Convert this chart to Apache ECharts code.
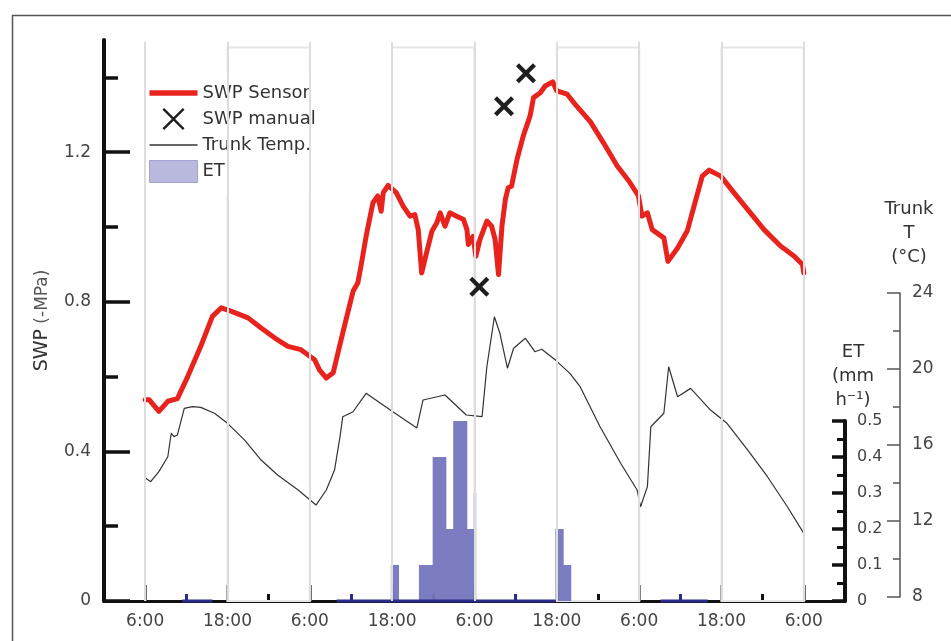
<!DOCTYPE html>
<html>
<head>
<meta charset="utf-8">
<script src="https://cdn.jsdelivr.net/npm/echarts@6/dist/echarts.min.js"></script>
<style>
html,body{margin:0;padding:0;background:#fff;}
#chart{width:951px;height:641px;}
</style>
</head>
<body>
<div id="chart"></div>
<script>
// ---------- data (hours from 0:00 of day 1) ----------
const swpHours = [6.0,6.6,8.0,9.3,10.7,12.2,14.1,15.8,17.1,18.5,21.0,22.9,24.9,26.8,28.7,30.7,31.4,32.4,33.4,34.8,36.3,37.0,37.5,38.2,39.2,39.9,40.4,40.7,41.4,42.6,43.6,44.6,45.3,45.8,46.3,47.0,47.8,48.5,49.0,49.7,50.4,51.4,52.4,52.9,53.1,53.8,54.2,54.8,55.8,56.5,57.0,57.5,58.0,58.5,58.9,59.4,60.2,61.1,62.1,62.6,63.6,64.3,65.4,66.0,67.5,68.9,70.9,72.8,74.8,76.5,77.9,78.4,79.2,79.9,81.6,82.2,83.6,85.0,86.0,87.2,88.2,89.9,91.8,93.8,96.2,98.6,100.6,101.8,102.0];
const swpValues = [0.538,0.538,0.507,0.534,0.541,0.600,0.681,0.761,0.784,0.775,0.757,0.730,0.703,0.681,0.672,0.645,0.618,0.596,0.610,0.717,0.828,0.851,0.900,0.975,1.065,1.083,1.042,1.092,1.111,1.092,1.056,1.029,1.033,0.993,0.877,0.930,0.989,1.011,1.038,1.002,1.038,1.029,1.020,0.993,0.953,0.975,0.922,0.967,1.016,1.002,0.967,0.873,1.002,1.074,1.105,1.109,1.181,1.243,1.297,1.346,1.359,1.377,1.388,1.364,1.355,1.323,1.281,1.225,1.163,1.123,1.083,1.029,1.038,0.993,0.971,0.908,0.944,0.989,1.056,1.136,1.152,1.136,1.092,1.047,0.993,0.949,0.922,0.900,0.877];

const manualHours = [54.7, 58.3, 61.5];
const manualValues = [0.84, 1.323, 1.411];

const tempHours = [6.1,6.8,8.0,9.3,9.8,10.2,10.7,11.7,12.9,14.1,16.1,18.0,20.5,22.9,25.3,28.3,30.9,32.4,33.6,34.4,34.8,36.3,38.2,42.1,45.6,46.5,49.7,52.8,55.1,55.8,56.9,57.7,58.8,59.7,61.4,62.8,63.8,65.8,67.9,69.4,72.3,75.3,77.7,78.2,79.2,79.7,81.6,82.3,83.6,85.5,88.4,90.8,93.8,96.7,99.6,102.0];
const tempValues = [14.25,14.07,14.6,15.38,16.62,16.44,16.53,17.93,18.02,17.98,17.67,17.14,16.26,15.21,14.42,13.63,12.84,13.63,14.68,16.44,17.49,17.75,18.72,17.75,16.9,18.37,18.63,17.58,17.49,20.12,22.75,21.88,20.04,21.09,21.62,20.91,21.04,20.47,19.77,19.07,16.96,15.04,13.63,12.75,13.81,16.96,17.67,20.12,18.54,18.98,17.84,17.14,15.74,14.33,12.75,11.35];

// ET histogram: start hour of each step and its value (held until next start)
const etStart = [41.8, 43.0, 45.9, 47.9, 49.9, 50.9, 52.95, 53.9, 54.25, 65.8, 67.0, 68.1];
const etValue = [0.1, 0, 0.1, 0.4, 0.2, 0.5, 0.2, 0.3, 0, 0.2, 0.1, 0];
const etBaseSpans = [[11.4, 15.8], [33.9, 65.8], [81.1, 88.0]];

// axis ticks / labels
const hourLabels = [6, 18, 30, 42, 54, 66, 78, 90, 102];
const tallGreyTicks = [6, 18, 30, 78, 90, 102];
const tallBlueTicks = [42, 54, 66];
const shortBlackTicks = [24, 72, 96];
const shortBlueTicks = [12, 36, 48, 60, 84];
const swpMajor = [0, 0.4, 0.8, 1.2];
const swpMinor = [0.2, 0.6, 1.0, 1.4];
const gridHours = [6, 18, 30, 42, 54, 66, 78, 90, 102];
const nights = [[18, 30], [42, 54], [66, 78], [90, 102]];

// ---------- build ----------
const FONT = 'DejaVu Sans';
const swpData = swpHours.map((h, i) => [h, swpValues[i]]);
const manualData = manualHours.map((h, i) => [h, manualValues[i]]);
const tempData = tempHours.map((h, i) => [h, tempValues[i]]);
const etData = etStart.map((h, i) => [h, etValue[i]]);
const etBaseData = [];
etBaseSpans.forEach(s => { etBaseData.push([s[0], 0], [s[1], 0], [s[1], null]); });

const XPATH = 'path://M3,0 L10,7 L17,0 L20,3 L13,10 L20,17 L17,20 L10,13 L3,20 L0,17 L7,10 L0,3 Z';
const XPATH_THIN = 'path://M1.5,0 L10,8.5 L18.5,0 L20,1.5 L11.5,10 L20,18.5 L18.5,20 L10,11.5 L1.5,20 L0,18.5 L8.5,10 L0,1.5 Z';
const THICK_LINE = 'path://M0,0H48V5.5H0Z';
const THIN_LINE = 'path://M0,0H48V1.3H0Z';

function hiddenX(grid, ticks, len, color) {
  return {
    type: 'value', gridIndex: grid, min: 0, max: 108, position: 'bottom',
    axisLine: { show: false, onZero: false }, axisLabel: { show: false }, splitLine: { show: false },
    axisTick: ticks ? { show: true, inside: true, customValues: ticks, length: len, lineStyle: { color: color, width: 3 } } : { show: false }
  };
}

const chart = echarts.init(document.getElementById('chart'), null, { renderer: 'canvas' });
chart.setOption({
  animation: false,
  backgroundColor: '#fff',
  textStyle: { fontFamily: FONT },
  graphic: [{
    type: 'rect', left: 10, top: 13, z: -10,
    shape: { width: 990, height: 680 },
    style: { fill: 'none', stroke: '#555', lineWidth: 1.5 }
  }],
  grid: [
    { left: 104, right: 106, top: 40, bottom: 40 },
    { left: 104, right: 106, top: 421, bottom: 40 },
    { left: 104, right: 106, top: 293, bottom: 44 }
  ],
  legend: {
    orient: 'vertical', left: 141, top: 72,
    padding: [12, 18, 12, 8], backgroundColor: '#fff',
    itemWidth: 48, itemHeight: 22, itemGap: 6,
    textStyle: { fontFamily: FONT, fontSize: 18, color: '#333' },
    data: [
      { name: 'SWP Sensor', icon: THICK_LINE },
      { name: 'SWP manual', icon: XPATH_THIN },
      { name: 'Trunk Temp.', icon: THIN_LINE },
      { name: 'ET', icon: 'rect', itemStyle: { color: '#b9b9dd', borderColor: '#a3a3d2', borderWidth: 1 } }
    ]
  },
  xAxis: [
    {
      type: 'value', gridIndex: 0, min: 0, max: 108, position: 'bottom',
      axisLine: { show: true, onZero: false, lineStyle: { color: '#111', width: 3 } },
      axisTick: { show: true, inside: true, customValues: tallGreyTicks, length: 16, lineStyle: { color: '#6e6e6e', width: 3 } },
      axisLabel: {
        customValues: hourLabels, margin: 12, color: '#444', fontFamily: FONT, fontSize: 17,
        formatter: v => (v % 24 === 6 ? '6:00' : '18:00')
      },
      splitLine: { show: false }
    },
    hiddenX(0, tallBlueTicks, 16, '#2b2b8c'),
    hiddenX(1, shortBlackTicks, 7, '#111'),
    hiddenX(1, shortBlueTicks, 7, '#2b2b8c'),
    hiddenX(2, null, 0, '#000')
  ],
  yAxis: [
    {
      type: 'value', gridIndex: 0, min: 0, max: 1.5, position: 'left',
      name: '{a|SWP} {b|(-MPa)}', nameLocation: 'middle', nameGap: 52,
      nameTextStyle: {
        fontFamily: FONT, fontSize: 17, color: '#333',
        rich: { a: { fontFamily: FONT, fontSize: 19, color: '#333' }, b: { fontFamily: FONT, fontSize: 17, color: '#555' } }
      },
      axisLine: { show: true, onZero: false, lineStyle: { color: '#111', width: 4 } },
      axisTick: { show: true, inside: true, customValues: swpMajor, length: 26, lineStyle: { color: '#111', width: 3.5 } },
      axisLabel: {
        customValues: swpMajor, margin: 13, color: '#444', fontFamily: FONT, fontSize: 17,
        formatter: v => (v === 0 ? '0' : v.toFixed(1))
      },
      splitLine: { show: false }
    },
    {
      type: 'value', gridIndex: 0, min: 0, max: 1.5, position: 'left',
      axisLine: { show: false, onZero: false }, axisLabel: { show: false }, splitLine: { show: false },
      axisTick: { show: true, inside: true, customValues: swpMinor, length: 14, lineStyle: { color: '#111', width: 3.5 } }
    },
    {
      type: 'value', gridIndex: 1, min: 0, max: 0.5, interval: 0.1, position: 'right',
      name: 'ET\n(mm\nh⁻¹)', nameLocation: 'end', nameGap: 9,
      nameTextStyle: { fontFamily: FONT, fontSize: 18, color: '#333', align: 'center', lineHeight: 24, padding: [0, 0, 0, 16] },
      axisLine: { show: true, onZero: false, lineStyle: { color: '#111', width: 4 } },
      axisTick: { show: true, inside: true, length: 13, lineStyle: { color: '#111', width: 3.5 } },
      minorTick: { show: true, splitNumber: 2, length: 8, lineStyle: { color: '#111', width: 3 } },
      axisLabel: {
        margin: 12, color: '#444', fontFamily: FONT, fontSize: 16,
        formatter: v => (v === 0 ? '0' : v.toFixed(1))
      },
      splitLine: { show: false }
    },
    {
      type: 'value', gridIndex: 2, min: 8, max: 24, interval: 4, position: 'right', offset: 55,
      name: 'Trunk\nT\n(°C)', nameLocation: 'end', nameGap: 24,
      nameTextStyle: { fontFamily: FONT, fontSize: 18, color: '#333', align: 'center', lineHeight: 24, padding: [0, 0, 0, 18] },
      axisLine: { show: true, onZero: false, lineStyle: { color: '#555', width: 1.5 } },
      axisTick: { show: true, inside: true, length: 13, lineStyle: { color: '#555', width: 1.5 } },
      minorTick: { show: true, splitNumber: 2, length: 7, lineStyle: { color: '#555', width: 1.5 } },
      axisLabel: { margin: 12, color: '#444', fontFamily: FONT, fontSize: 17 },
      splitLine: { show: false }
    }
  ],
  series: [
    {
      name: 'guides', type: 'line', xAxisIndex: 0, yAxisIndex: 0, z: 0,
      data: [[0, 0], [108, 0]], symbol: 'none', lineStyle: { width: 0, opacity: 0 }, silent: true,
      markLine: {
        silent: true, symbol: ['none', 'none'], label: { show: false },
        lineStyle: { color: '#dddddd', width: 2, type: 'solid' },
        data: gridHours.map(h => [{ coord: [h, 0] }, { coord: [h, 1.495] }])
      },
      markArea: {
        silent: true, label: { show: false },
        itemStyle: { color: 'rgba(0,0,0,0)', borderColor: '#e6e6e6', borderWidth: 2 },
        data: nights.map(n => [{ coord: [n[0], 0] }, { coord: [n[1], 1.48] }])
      }
    },
    {
      name: 'ET', type: 'line', xAxisIndex: 2, yAxisIndex: 2, step: 'end',
      data: etData, symbol: 'none', showSymbol: false, clip: false,
      itemStyle: { color: '#7575bd' },
      lineStyle: { width: 0, color: '#7575bd' },
      areaStyle: { color: '#7575bd', opacity: 0.95 },
      z: 1
    },
    {
      name: 'ET baseline', type: 'line', xAxisIndex: 2, yAxisIndex: 2,
      data: etBaseData, symbol: 'none', clip: false, connectNulls: false,
      lineStyle: { color: '#2b2b8c', width: 3 }, z: 3
    },
    {
      name: 'Trunk Temp.', type: 'line', xAxisIndex: 4, yAxisIndex: 3,
      data: tempData, symbol: 'none', itemStyle: { color: '#333' },
      lineStyle: { color: '#333', width: 1.2 }, z: 3
    },
    {
      name: 'SWP Sensor', type: 'line', xAxisIndex: 0, yAxisIndex: 0,
      data: swpData, symbol: 'none', itemStyle: { color: '#e8231d' },
      lineStyle: { color: '#e8231d', width: 5, join: 'round', cap: 'round' }, z: 4
    },
    {
      name: 'SWP manual', type: 'scatter', xAxisIndex: 0, yAxisIndex: 0,
      data: manualData, symbol: XPATH, symbolSize: 20,
      itemStyle: { color: '#1e1e1e', opacity: 1 }, z: 5
    }
  ]
});
</script>
</body>
</html>
